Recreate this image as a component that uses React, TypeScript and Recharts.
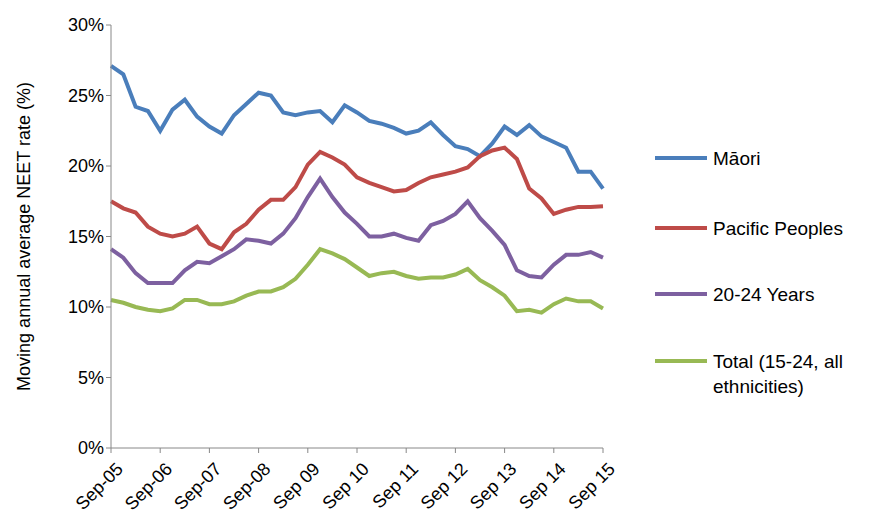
import React from 'react';
import { LineChart, Line, XAxis, YAxis } from 'recharts';

const tickLabels = ['Sep-05', 'Sep-06', 'Sep-07', 'Sep-08', 'Sep 09', 'Sep 10', 'Sep 11', 'Sep 12', 'Sep 13', 'Sep 14', 'Sep 15'];

const maori = [27.1, 26.5, 24.2, 23.9, 22.5, 24.0, 24.7, 23.5, 22.8, 22.3, 23.6, 24.4, 25.2, 25.0, 23.8, 23.6, 23.8, 23.9, 23.1, 24.3, 23.8, 23.2, 23.0, 22.7, 22.3, 22.5, 23.1, 22.2, 21.4, 21.2, 20.7, 21.6, 22.8, 22.2, 22.9, 22.1, 21.7, 21.3, 19.6, 19.6, 18.4];
const pacific = [17.5, 17.0, 16.7, 15.7, 15.2, 15.0, 15.2, 15.7, 14.5, 14.1, 15.3, 15.9, 16.9, 17.6, 17.6, 18.5, 20.1, 21.0, 20.6, 20.1, 19.2, 18.8, 18.5, 18.2, 18.3, 18.8, 19.2, 19.4, 19.6, 19.9, 20.7, 21.1, 21.3, 20.5, 18.4, 17.7, 16.6, 16.9, 17.1, 17.1, 17.15];
const years2024 = [14.1, 13.5, 12.4, 11.7, 11.7, 11.7, 12.6, 13.2, 13.1, 13.6, 14.1, 14.8, 14.7, 14.5, 15.2, 16.3, 17.8, 19.1, 17.8, 16.7, 15.9, 15.0, 15.0, 15.2, 14.9, 14.7, 15.8, 16.1, 16.6, 17.5, 16.3, 15.4, 14.4, 12.6, 12.2, 12.1, 13.0, 13.7, 13.7, 13.9, 13.5];
const total = [10.5, 10.3, 10.0, 9.8, 9.7, 9.9, 10.5, 10.5, 10.2, 10.2, 10.4, 10.8, 11.1, 11.1, 11.4, 12.0, 13.0, 14.1, 13.8, 13.4, 12.8, 12.2, 12.4, 12.5, 12.2, 12.0, 12.1, 12.1, 12.3, 12.7, 11.9, 11.4, 10.8, 9.7, 9.8, 9.6, 10.2, 10.6, 10.4, 10.4, 9.9];

const series = [
  { key: 'maori', name: 'Māori', color: '#4a7ebb', y: 158 },
  { key: 'pacific', name: 'Pacific Peoples', color: '#be4b48', y: 228 },
  { key: 'y2024', name: '20-24 Years', color: '#7d60a0', y: 294 },
  { key: 'total', name: 'Total (15-24, all ethnicities)', color: '#98b954', y: 361 },
];

const data = maori.map((m, i) => ({ i, maori: m, pacific: pacific[i], y2024: years2024[i], total: total[i] }));

const font = 'Liberation Sans, Arial, sans-serif';

const XTick = (props: any) => {
  const { x, y, payload } = props;
  return (
    <text x={x + 6} y={y + 8} textAnchor="end" transform={`rotate(-45 ${x + 6} ${y + 8})`} fontSize={18} fill="#000" fontFamily={font} dy={10}>
      {tickLabels[payload.value / 4]}
    </text>
  );
};

const YLabel = (props: any) => {
  const { viewBox } = props;
  const cy = viewBox.y + viewBox.height / 2;
  return (
    <text x={16} y={cy} transform={`rotate(-90 16 ${cy})`} textAnchor="middle" dominantBaseline="central" fontSize={18} fill="#000" fontFamily={font}>
      Moving annual average NEET rate (%)
    </text>
  );
};

export default function App() {
  return (
    <div style={{ position: 'relative', width: 865, height: 517, fontFamily: font }}>
      <LineChart width={620} height={517} data={data} margin={{ top: 17, right: 25, bottom: 7, left: 0 }}>
        <XAxis dataKey="i" type="number" domain={[0, 40]} ticks={[0, 4, 8, 12, 16, 20, 24, 28, 32, 36, 40]}
          height={70} tick={<XTick />} stroke="#888" tickSize={5} />
        <YAxis width={103} domain={[0, 30]} ticks={[0, 5, 10, 15, 20, 25, 30]} tickFormatter={(v) => `${v}%`}
          stroke="#888" tick={{ fill: '#000', fontSize: 18, fontFamily: font }} tickSize={5}
          label={<YLabel />} />
        {series.map((s) => (
          <Line key={s.key} dataKey={s.key} stroke={s.color} strokeWidth={4} dot={false} isAnimationActive={false} type="linear" />
        ))}
      </LineChart>
      {series.map((s) => (
        <div key={s.key} style={{ position: 'absolute', left: 647, top: s.y - 20, display: 'flex', alignItems: 'flex-start', fontSize: 19, lineHeight: '25px', width: 220 }}>
          <div style={{ width: 52, height: 4, background: s.color, marginTop: 10, marginRight: 6, flexShrink: 0 }} />
          <div style={{ width: 160 }}>{s.name}</div>
        </div>
      ))}
    </div>
  );
}
